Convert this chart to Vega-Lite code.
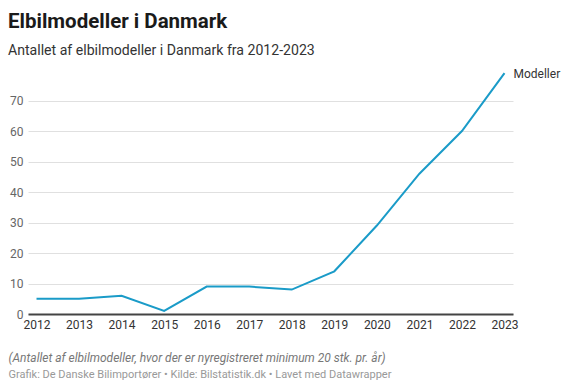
{
  "$schema": "https://vega.github.io/schema/vega-lite/v6.json",
  "width": 485,
  "height": 244,
  "autosize": {"type": "none"},
  "padding": {"left": 28, "top": 70, "right": 63, "bottom": 76},
  "background": "white",
  "config": {
    "font": "Roboto",
    "view": {"stroke": null}
  },
  "title": {
    "text": "Elbilmodeller i Danmark",
    "subtitle": "Antallet af elbilmodeller i Danmark fra 2012-2023",
    "anchor": "start",
    "frame": "group",
    "dx": -20,
    "offset": 10,
    "font": "Roboto",
    "fontSize": 20.5,
    "fontWeight": "bold",
    "color": "#1a1a1a",
    "subtitleFont": "Roboto",
    "subtitleFontSize": 14.1,
    "subtitleColor": "#333333",
    "subtitlePadding": 11
  },
  "data": {
    "values": [
      {"year": "2012", "modeller": 5},
      {"year": "2013", "modeller": 5},
      {"year": "2014", "modeller": 6},
      {"year": "2015", "modeller": 1},
      {"year": "2016", "modeller": 9},
      {"year": "2017", "modeller": 9},
      {"year": "2018", "modeller": 8},
      {"year": "2019", "modeller": 14},
      {"year": "2020", "modeller": 29},
      {"year": "2021", "modeller": 46},
      {"year": "2022", "modeller": 60},
      {"year": "2023", "modeller": 79}
    ]
  },
  "encoding": {
    "x": {
      "field": "year",
      "type": "ordinal",
      "scale": {"type": "point", "padding": 0.2},
      "axis": {
        "labelAngle": 0,
        "labelFont": "Roboto",
        "labelFontSize": 12,
        "labelColor": "#333333",
        "labelPadding": 5,
        "ticks": false,
        "grid": false,
        "domainColor": "#444444",
        "domainWidth": 2,
        "title": "(Antallet af elbilmodeller, hvor der er nyregistreret minimum 20 stk. pr. år)",
        "titleFont": "Roboto",
        "titleFontSize": 12,
        "titleFontStyle": "italic",
        "titleFontWeight": "normal",
        "titleColor": "#777777",
        "titleAnchor": null,
        "titleAlign": "left",
        "titleBaseline": "alphabetic",
        "titleX": -20,
        "titleY": 47
      }
    },
    "y": {
      "field": "modeller",
      "type": "quantitative",
      "scale": {"domain": [0, 80], "nice": false},
      "axis": {
        "values": [0, 10, 20, 30, 40, 50, 60, 70],
        "domain": false,
        "ticks": false,
        "labelFont": "Roboto",
        "labelFontSize": 12,
        "labelColor": "#666666",
        "labelPadding": 5,
        "gridColor": "#e0e0e0",
        "gridWidth": 1,
        "title": "Grafik: De Danske Bilimportører • Kilde: Bilstatistik.dk • Lavet med Datawrapper",
        "titleFont": "Roboto",
        "titleFontSize": 11,
        "titleFontWeight": "normal",
        "titleColor": "#999999",
        "titleAngle": 0,
        "titleAnchor": null,
        "titleAlign": "left",
        "titleBaseline": "alphabetic",
        "titleX": -20,
        "titleY": 307
      }
    }
  },
  "layer": [
    {
      "mark": {"type": "line", "color": "#1a9bc8", "strokeWidth": 2}
    },
    {
      "transform": [{"filter": "datum.year == '2023'"}],
      "mark": {
        "type": "text",
        "text": "Modeller",
        "align": "left",
        "baseline": "middle",
        "dx": 9,
        "dy": 1,
        "font": "Roboto",
        "fontSize": 12,
        "color": "#333333"
      }
    }
  ]
}
